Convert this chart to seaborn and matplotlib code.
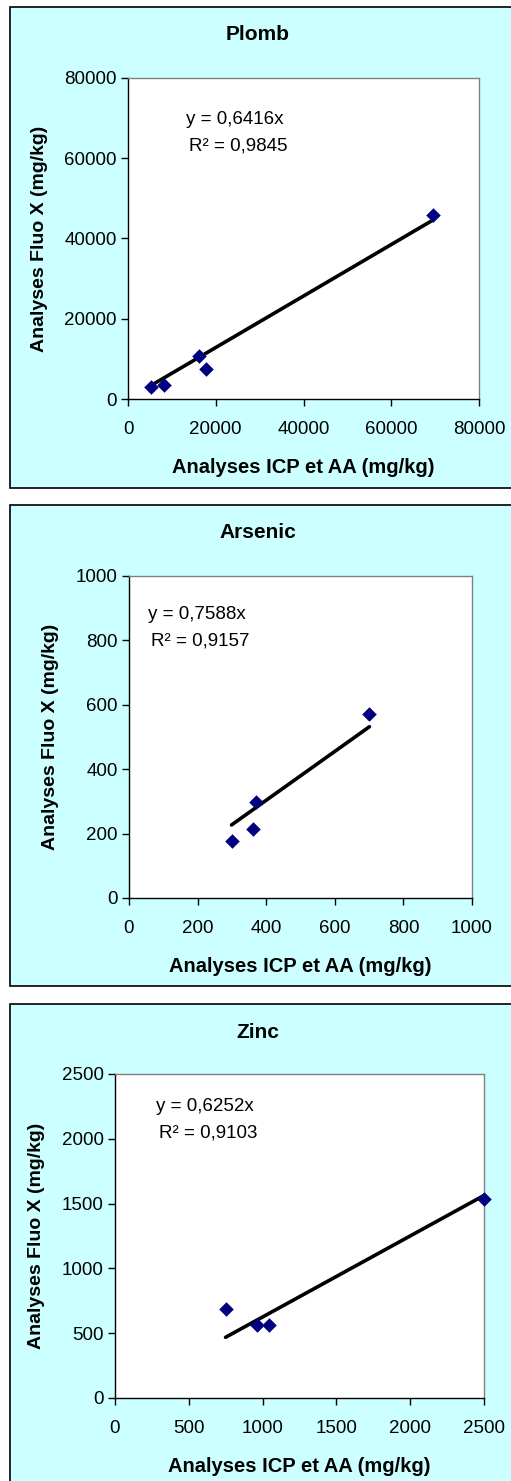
import numpy as np
import matplotlib
matplotlib.use("Agg")
import matplotlib.pyplot as plt
from matplotlib.patches import Rectangle
import seaborn as sns

# data
plomb_icp = [5240, 8120, 16090, 17760, 69450]
plomb_fluo = [3070, 3480, 10700, 7550, 45980]
arsenic_icp = [299, 361, 370, 701]
arsenic_fluo = [176, 214, 298, 571]
zinc_icp = [749, 961, 1045, 2500]
zinc_fluo = [689, 565, 565, 1536]

slopes = [0.6416, 0.7588, 0.6252]
r2_values = ["0,9845", "0,9157", "0,9103"]
titles = ["Plomb", "Arsenic", "Zinc"]
axis_max = [80000, 1000, 2500]
tick_steps = [20000, 200, 500]

sns.set_style("white")
plt.rcParams['font.family'] = ['Liberation Sans', 'DejaVu Sans']
plt.rcParams['text.color'] = 'black'
plt.rcParams['axes.labelcolor'] = 'black'

W, H = 511, 1481
fig = plt.figure(figsize=(W / 100, H / 100), dpi=100)
fig.patch.set_facecolor("white")

# panel boxes (pixels): left, top, right, bottom
panels = [(10, 7, 512, 488), (10, 505, 512, 986), (10, 1004, 512, 1483)]
# plot areas (pixels): left, top, right, bottom
areas = [(128, 78, 479, 399), (129, 576, 472, 898), (115, 1074, 484, 1398)]
title_y = [34, 533, 1033]
eq_pos = [(0.165, 0.87), (0.055, 0.88), (0.11, 0.90)]

data = [(plomb_icp, plomb_fluo), (arsenic_icp, arsenic_fluo), (zinc_icp, zinc_fluo)]

for i in range(3):
    l, t, r, b = panels[i]
    fig.patches.append(Rectangle((l / W, 1 - b / H), (r - l) / W, (b - t) / H,
                                 transform=fig.transFigure, facecolor="#CCFFFF",
                                 edgecolor="black", linewidth=1.2, zorder=-5))

    al, at, ar, ab = areas[i]
    ax = fig.add_axes([al / W, 1 - ab / H, (ar - al) / W, (ab - at) / H])
    ax.set_facecolor("white")

    x, y = data[i]
    x = np.array(x)
    xs = np.array([x.min(), x.max()])
    sns.lineplot(x=xs, y=slopes[i] * xs, color="black", linewidth=2.6, ax=ax, zorder=2)
    sns.scatterplot(x=x, y=y, marker="D", s=55, color="#000080", edgecolor="#000080",
                    linewidth=0, ax=ax, zorder=3, clip_on=False)

    m = axis_max[i]
    ax.set_xlim(0, m)
    ax.set_ylim(0, m)
    ticks = np.arange(0, m + 1, tick_steps[i])
    ax.set_xticks(ticks)
    ax.set_yticks(ticks)
    ax.set_xticklabels([str(v) for v in ticks])
    ax.set_yticklabels([str(v) for v in ticks])
    ax.tick_params(axis="both", direction="out", length=5, width=1, colors="black",
                   labelsize=13.5, bottom=True, left=True)
    ax.tick_params(axis="x", pad=11)
    ax.tick_params(axis="y", pad=3)
    for s in ["top", "right"]:
        ax.spines[s].set_color("#808080")
        ax.spines[s].set_linewidth(1)
    for s in ["left", "bottom"]:
        ax.spines[s].set_color("black")
        ax.spines[s].set_linewidth(1)

    ax.set_xlabel("Analyses ICP et AA (mg/kg)", fontsize=14.5, fontweight="bold", labelpad=14)
    ax.set_ylabel("Analyses Fluo X (mg/kg)", fontsize=14, fontweight="bold", labelpad=12)

    ex, ey = eq_pos[i]
    eq = "y = " + f"{slopes[i]:.4f}".replace(".", ",") + "x"
    ax.text(ex, ey, eq, transform=ax.transAxes, fontsize=13.5, ha="left", va="center")
    ax.text(ex + 0.01, ey - 0.083, "R² = " + r2_values[i], transform=ax.transAxes,
            fontsize=13.5, ha="left", va="center")

    fig.text(((l + r) / 2 - 3) / W, 1 - title_y[i] / H, titles[i], fontsize=15,
             fontweight="bold", ha="center", va="center")

fig.savefig("out.png", dpi=100)
